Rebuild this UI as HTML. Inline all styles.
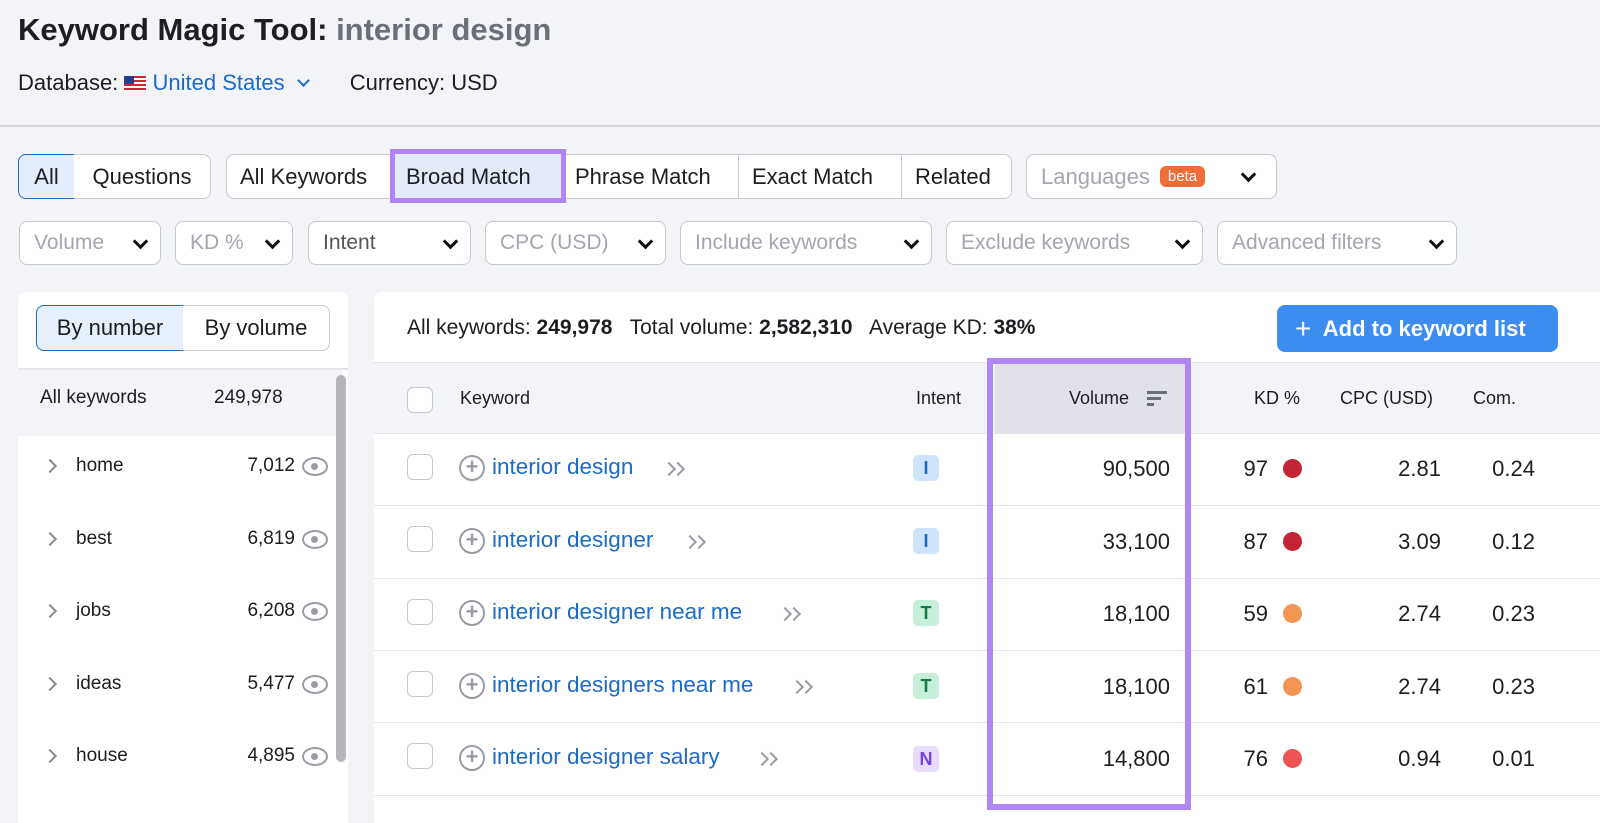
<!DOCTYPE html><html style="overflow:hidden;width:1600px;height:823px"><head><style>
*{margin:0;padding:0;box-sizing:border-box}
body{width:1600px;height:823px;overflow:hidden;background:#f3f4f8;font-family:"Liberation Sans",sans-serif;color:#1d1e22;position:relative}
.a{position:absolute;white-space:nowrap}
.btn{position:absolute;height:45px;border:1.5px solid #c6c8cf;background:#fff;font-size:22px;display:flex;align-items:center;justify-content:center;border-radius:8px}
.dd{position:absolute;top:221px;height:44px;border:1.5px solid #c6c8cf;background:#fff;border-radius:8px;font-size:21px;color:#a3a6ae;display:flex;align-items:center;padding-left:14px}
.dd i{position:absolute;right:14px;top:14px;width:11px;height:11px;border-right:3px solid #111;border-bottom:3px solid #111;transform:rotate(45deg)}
.row{position:absolute;left:374px;width:1226px;height:72px;border-top:1.5px solid #e4e5ea;background:#fff}
.cb{position:absolute;width:26px;height:26px;border:1.5px solid #c6c8cf;border-radius:6px;background:#fff}
.kw{position:absolute;font-size:22.5px;color:#1c6ac9}
.num{position:absolute;font-size:22px;text-align:right}
.dot{position:absolute;width:19px;height:19px;border-radius:50%}
.badge{position:absolute;width:26px;height:26px;border-radius:5px;font-size:18px;font-weight:bold;text-align:center;line-height:26px}
.chev{position:absolute;width:10px;height:10px;border-right:2.5px solid #888b93;border-top:2.5px solid #888b93;transform:rotate(45deg)}
.eye{position:absolute;width:26px;height:19px;border:2.5px solid #9a9ca4;border-radius:50%}
.eye:after{content:"";position:absolute;left:7px;top:3.5px;width:7px;height:7px;border-radius:50%;background:#9a9ca4}
.plus{position:absolute;width:26px;height:26px;border:2.5px solid #9a9ca4;border-radius:50%;color:#9a9ca4;font-size:22px;line-height:19px;text-align:center;font-weight:bold}
.dbl{position:absolute;width:22px;height:14px}
.dbl:before,.dbl:after{content:"";position:absolute;top:2px;width:8px;height:8px;border-right:2.5px solid #9a9ca4;border-top:2.5px solid #9a9ca4;transform:rotate(45deg)}
.dbl:before{left:0}.dbl:after{left:9px}
</style></head><body>
<div class="a" style="left:18px;top:12px;font-size:31px;font-weight:bold">Keyword Magic Tool: <span style="color:#6c6e78">interior design</span></div>
<div class="a" style="left:18px;top:70px;font-size:22px">Database: <span style="display:inline-block;width:22px;height:15px;background:repeating-linear-gradient(#c8283a 0 2px,#fff 2px 4px);position:relative;vertical-align:-1px"><span style="position:absolute;left:0;top:0;width:10px;height:8px;background:#2a3c8e"></span></span> <span style="color:#1c6ac9">United States</span> <span style="display:inline-block;width:9px;height:9px;border-right:2.5px solid #1c6ac9;border-bottom:2.5px solid #1c6ac9;transform:rotate(45deg);margin-left:8px;vertical-align:5px"></span><span style="margin-left:42px">Currency: USD</span></div>
<div class="a" style="left:0;top:125px;width:1600px;height:2px;background:#d3d5db"></div>

<div class="btn" style="left:18px;top:154px;width:57px;background:#e4edfb;border-color:#1c6ac9;border-radius:8px 0 0 8px">All</div>
<div class="btn" style="left:74px;top:154px;width:137px;border-left:none;border-radius:0 8px 8px 0">Questions</div>
<div class="btn" style="left:226px;top:154px;width:786px"></div>
<div class="a" style="left:240px;top:164px;font-size:22px">All Keywords</div>
<div class="a" style="left:390px;top:149px;width:176px;height:54px;border:5px solid #b084f5;background:#e3ebf8"></div>
<div class="a" style="left:406px;top:164px;font-size:22px">Broad Match</div>
<div class="a" style="left:575px;top:164px;font-size:22px">Phrase Match</div>
<div class="a" style="left:738px;top:155px;width:1px;height:43px;background:#c6c8cf"></div>
<div class="a" style="left:752px;top:164px;font-size:22px">Exact Match</div>
<div class="a" style="left:901px;top:155px;width:1px;height:43px;background:#c6c8cf"></div>
<div class="a" style="left:915px;top:164px;font-size:22px">Related</div>
<div class="btn" style="left:1026px;top:154px;width:251px;justify-content:flex-start;padding-left:14px;color:#a3a6ae">Languages <span style="background:#f06d3a;color:#fff;font-size:15px;border-radius:6px;padding:2px 8px;margin-left:10px">beta</span></div>
<div class="chev" style="left:1243px;top:169px;transform:rotate(135deg);border-color:#111;width:11px;height:11px;border-width:3px"></div>

<div class="dd" style="left:19px;width:142px">Volume<i></i></div>
<div class="dd" style="left:175px;width:118px">KD %<i></i></div>
<div class="dd" style="left:308px;width:163px;color:#555">Intent<i></i></div>
<div class="dd" style="left:485px;width:181px">CPC (USD)<i></i></div>
<div class="dd" style="left:680px;width:252px">Include keywords<i></i></div>
<div class="dd" style="left:946px;width:257px">Exclude keywords<i></i></div>
<div class="dd" style="left:1217px;width:240px">Advanced filters<i></i></div>

<!-- left panel -->
<div class="a" style="left:18px;top:292px;width:330px;height:531px;background:#fff;border-radius:8px 8px 0 0"></div>
<div class="btn" style="left:36px;top:305px;width:148px;height:46px;background:#e6effc;border-color:#1c6ac9;border-radius:8px 0 0 8px">By number</div>
<div class="btn" style="left:183px;top:305px;width:147px;height:46px;border-left:none;border-radius:0 8px 8px 0">By volume</div>
<div class="a" style="left:18px;top:368px;width:330px;height:2px;background:#e4e5ea"></div>
<div class="a" style="left:18px;top:370px;width:325px;height:66px;background:#f3f4f8"></div>
<div class="a" style="left:40px;top:387px;font-size:19px">All keywords</div>
<div class="a" style="left:214px;top:387px;font-size:19px">249,978</div>
<div class="a" style="left:336px;top:375px;width:10px;height:387px;border-radius:5px;background:#b4b6bb"></div>
<div class="chev" style="left:45px;top:461px"></div><div class="a" style="left:76px;top:455px;font-size:19px">home</div><div class="num" style="left:200px;width:95px;top:455px;font-size:19px">7,012</div><div class="eye" style="left:302px;top:457px"></div>
<div class="chev" style="left:45px;top:534px"></div><div class="a" style="left:76px;top:528px;font-size:19px">best</div><div class="num" style="left:200px;width:95px;top:528px;font-size:19px">6,819</div><div class="eye" style="left:302px;top:530px"></div>
<div class="chev" style="left:45px;top:606px"></div><div class="a" style="left:76px;top:600px;font-size:19px">jobs</div><div class="num" style="left:200px;width:95px;top:600px;font-size:19px">6,208</div><div class="eye" style="left:302px;top:602px"></div>
<div class="chev" style="left:45px;top:679px"></div><div class="a" style="left:76px;top:673px;font-size:19px">ideas</div><div class="num" style="left:200px;width:95px;top:673px;font-size:19px">5,477</div><div class="eye" style="left:302px;top:675px"></div>
<div class="chev" style="left:45px;top:751px"></div><div class="a" style="left:76px;top:745px;font-size:19px">house</div><div class="num" style="left:200px;width:95px;top:745px;font-size:19px">4,895</div><div class="eye" style="left:302px;top:747px"></div>

<!-- right panel -->
<div class="a" style="left:374px;top:292px;width:1226px;height:531px;background:#fff;border-radius:8px 0 0 0"></div>
<div class="a" style="left:407px;top:316px;font-size:21px">All keywords: <b>249,978</b> &nbsp; Total volume: <b>2,582,310</b> &nbsp; Average KD: <b>38%</b></div>
<div class="a" style="left:1277px;top:305px;width:281px;height:47px;background:#3d8cf0;border-radius:8px;color:#fff;font-size:22px;font-weight:bold;line-height:47px;padding-left:18px"><span style="font-size:28px;font-weight:normal;vertical-align:-2px">+</span>&nbsp; Add to keyword list</div>
<div class="a" style="left:374px;top:362px;width:1226px;height:72px;background:#f3f4f8;border-top:1.5px solid #e4e5ea"></div>
<div class="a" style="left:995px;top:363px;width:190px;height:71px;background:#e1e2e9"></div>
<div class="cb" style="left:407px;top:387px"></div>
<div class="a" style="left:460px;top:388px;font-size:18px">Keyword</div>
<div class="a" style="left:916px;top:388px;font-size:18px">Intent</div>
<div class="a" style="left:1069px;top:388px;font-size:18px">Volume</div>
<div class="a" style="left:1147px;top:391px;width:20px;height:3px;background:#6b6e76"></div><div class="a" style="left:1147px;top:397px;width:14px;height:3px;background:#6b6e76"></div><div class="a" style="left:1147px;top:403px;width:7px;height:3px;background:#6b6e76"></div>
<div class="a" style="left:1254px;top:388px;font-size:18px">KD %</div>
<div class="a" style="left:1340px;top:388px;font-size:18px">CPC (USD)</div>
<div class="a" style="left:1473px;top:388px;font-size:18px">Com.</div>

<div class="row" style="top:433px"></div>
<div class="row" style="top:505px"></div>
<div class="row" style="top:578px"></div>
<div class="row" style="top:650px"></div>
<div class="row" style="top:722px"></div>
<div class="row" style="top:795px;height:28px"></div>

<!-- rows -->
<div class="cb" style="left:407px;top:454px"></div><div class="plus" style="left:459px;top:455px">+</div><div class="kw" style="left:492px;top:454px">interior design</div><div class="dbl" style="left:664px;top:462px"></div>
<div class="badge" style="left:913px;top:455px;background:#cfe4fb;color:#1c6ac9">I</div><div class="num" style="left:1060px;width:110px;top:456px">90,500</div><div class="num" style="left:1210px;width:58px;top:456px">97</div><div class="dot" style="left:1283px;top:459px;background:#c32535"></div><div class="num" style="left:1360px;width:81px;top:456px">2.81</div><div class="num" style="left:1460px;width:75px;top:456px">0.24</div>

<div class="cb" style="left:407px;top:526px"></div><div class="plus" style="left:459px;top:528px">+</div><div class="kw" style="left:492px;top:527px">interior designer</div><div class="dbl" style="left:685px;top:535px"></div>
<div class="badge" style="left:913px;top:528px;background:#cfe4fb;color:#1c6ac9">I</div><div class="num" style="left:1060px;width:110px;top:529px">33,100</div><div class="num" style="left:1210px;width:58px;top:529px">87</div><div class="dot" style="left:1283px;top:532px;background:#c32535"></div><div class="num" style="left:1360px;width:81px;top:529px">3.09</div><div class="num" style="left:1460px;width:75px;top:529px">0.12</div>

<div class="cb" style="left:407px;top:599px"></div><div class="plus" style="left:459px;top:600px">+</div><div class="kw" style="left:492px;top:599px">interior designer near me</div><div class="dbl" style="left:780px;top:607px"></div>
<div class="badge" style="left:913px;top:600px;background:#c5efd9;color:#137a48">T</div><div class="num" style="left:1060px;width:110px;top:601px">18,100</div><div class="num" style="left:1210px;width:58px;top:601px">59</div><div class="dot" style="left:1283px;top:604px;background:#f29452"></div><div class="num" style="left:1360px;width:81px;top:601px">2.74</div><div class="num" style="left:1460px;width:75px;top:601px">0.23</div>

<div class="cb" style="left:407px;top:671px"></div><div class="plus" style="left:459px;top:673px">+</div><div class="kw" style="left:492px;top:672px">interior designers near me</div><div class="dbl" style="left:792px;top:680px"></div>
<div class="badge" style="left:913px;top:673px;background:#c5efd9;color:#137a48">T</div><div class="num" style="left:1060px;width:110px;top:674px">18,100</div><div class="num" style="left:1210px;width:58px;top:674px">61</div><div class="dot" style="left:1283px;top:677px;background:#f29452"></div><div class="num" style="left:1360px;width:81px;top:674px">2.74</div><div class="num" style="left:1460px;width:75px;top:674px">0.23</div>

<div class="cb" style="left:407px;top:743px"></div><div class="plus" style="left:459px;top:745px">+</div><div class="kw" style="left:492px;top:744px">interior designer salary</div><div class="dbl" style="left:757px;top:752px"></div>
<div class="badge" style="left:913px;top:746px;background:#e7dcfb;color:#7a3fe0">N</div><div class="num" style="left:1060px;width:110px;top:746px">14,800</div><div class="num" style="left:1210px;width:58px;top:746px">76</div><div class="dot" style="left:1283px;top:749px;background:#ec5454"></div><div class="num" style="left:1360px;width:81px;top:746px">0.94</div><div class="num" style="left:1460px;width:75px;top:746px">0.01</div>

<div class="a" style="left:987px;top:358px;width:204px;height:452px;border:6px solid #b086f5"></div>
</body></html>
